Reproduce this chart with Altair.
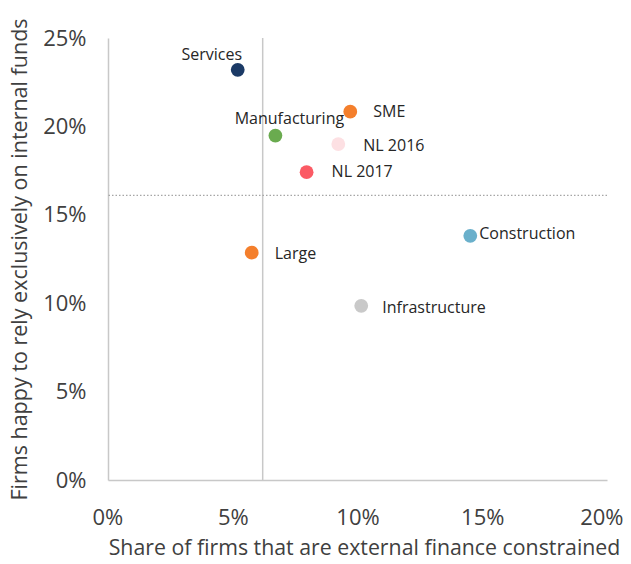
import altair as alt
import pandas as pd

# ---- data ----
names = ["Services", "SME", "Manufacturing", "NL 2016", "NL 2017",
         "Construction", "Large", "Infrastructure"]
finance_constrained = [5.2, 9.71, 6.71, 9.23, 7.96, 14.52, 5.76, 10.15]
internal_funds = [23.2, 20.83, 19.48, 19.0, 17.41, 13.81, 12.86, 9.85]
colors = ["#1b3a66", "#f47f2c", "#6aab4f", "#fde0e3", "#fb5a64",
          "#6ab0cb", "#f47f2c", "#c9c9c9"]
x_ref = 6.2
y_ref = 16.1

df = pd.DataFrame({
    "name": names,
    "x": [v / 100 for v in finance_constrained],
    "y": [v / 100 for v in internal_funds],
    "color": colors,
})

# label placement (style): dx, dy, align
label_style = {
    "Services": (-26, -15, "center"),
    "Manufacturing": (14, -17, "center"),
    "SME": (23, 0, "left"),
    "NL 2016": (25, 2, "left"),
    "NL 2017": (25, 0, "left"),
    "Construction": (9, -2, "left"),
    "Large": (23, 1, "left"),
    "Infrastructure": (21, 2, "left"),
}

FONT = "Open Sans"
TXT = "#404040"

xscale = alt.Scale(domain=[0, 0.2], nice=False, zero=True)
yscale = alt.Scale(domain=[0, 0.25], nice=False, zero=True)

base = alt.Chart(df)

xaxis = alt.Axis(values=[0, 0.05, 0.1, 0.15, 0.2], format=".0%", grid=False,
                 ticks=False, domainColor="#c8c8c8", domainWidth=1.5,
                 labelFont=FONT, labelFontSize=22, labelColor=TXT,
                 labelPadding=37, labelBaseline="middle",
                 labelFlush=True, labelFlushOffset=16,
                 title="Share of firms that are external finance constrained",
                 titleFont=FONT, titleFontSize=21.3, titleFontWeight="normal",
                 titleColor=TXT, titleX=256, titleY=74,
                 titleBaseline="alphabetic",
                 titleAnchor="middle", titleAlign="center")
yaxis = alt.Axis(values=[0, 0.05, 0.1, 0.15, 0.2, 0.25], format=".0%", grid=False,
                 ticks=False, domainColor="#c8c8c8", domainWidth=1.5,
                 labelFont=FONT, labelFontSize=22, labelColor=TXT,
                 labelPadding=22, labelFlush=False,
                 title="Firms happy to rely exclusively on internal funds",
                 titleFont=FONT, titleFontSize=21.5, titleFontWeight="normal",
                 titleColor=TXT, titleX=-82, titleY=221,
                 titleBaseline="alphabetic",
                 titleAngle=-90, titleAlign="center")

vline = alt.Chart(pd.DataFrame({"v": [x_ref / 100]})).mark_rule(
    color="#c8c8c8", strokeWidth=1.5).encode(x=alt.X("v:Q", scale=xscale))
hline = alt.Chart(pd.DataFrame({"v": [y_ref / 100]})).mark_rule(
    color="#a6a6a6", strokeWidth=1.3, strokeDash=[1.5, 2]).encode(
    y=alt.Y("v:Q", scale=yscale))

points = base.mark_circle(size=190, opacity=1).encode(
    x=alt.X("x:Q", scale=xscale, axis=xaxis),
    y=alt.Y("y:Q", scale=yscale, axis=yaxis),
    color=alt.Color("color:N", scale=None),
)

labels = []
for n, (dx, dy, al) in label_style.items():
    labels.append(
        base.transform_filter(alt.datum.name == n).mark_text(
            font=FONT, fontSize=16, color="#262626", dx=dx, dy=dy,
            align=al, baseline="middle").encode(
            x=alt.X("x:Q", scale=xscale), y=alt.Y("y:Q", scale=yscale),
            text="name:N")
    )

chart = alt.layer(vline, hline, points, *labels).properties(
    width=499, height=442,
    autosize=alt.AutoSizeParams(type="none"),
    padding={"left": 100, "top": 30, "right": 16, "bottom": 76},
).configure_view(stroke=None)

chart.save("out.html", embed_options={"renderer": "svg", "actions": False})
